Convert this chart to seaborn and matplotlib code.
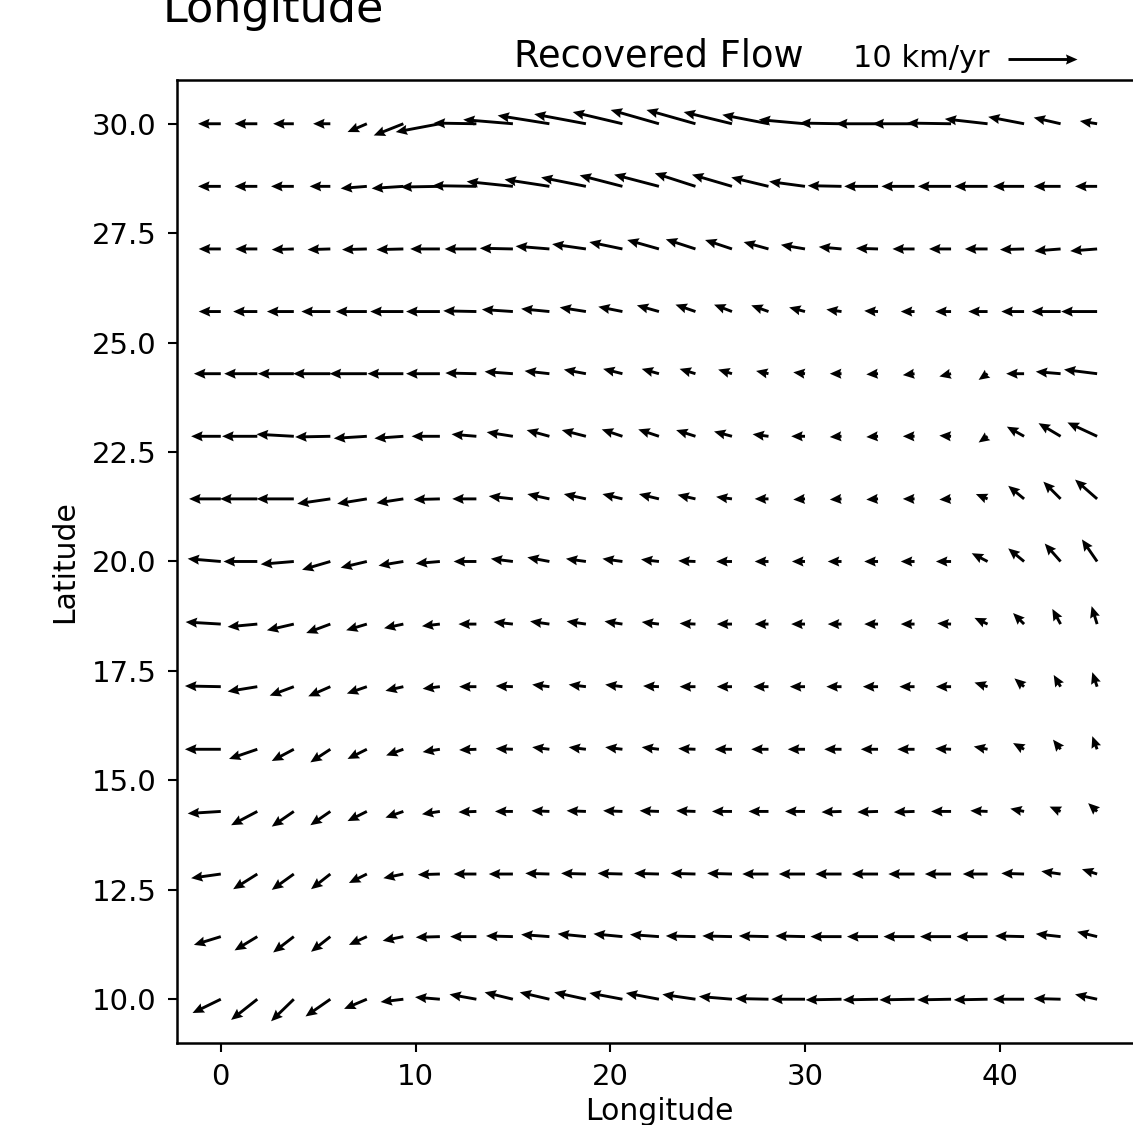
import numpy as np
import matplotlib
matplotlib.use("Agg")
import matplotlib.pyplot as plt
import seaborn as sns

# grid of the recovered velocity field
lon = [0.0, 1.875, 3.75, 5.625, 7.5, 9.375, 11.25, 13.125, 15.0, 16.875, 18.75, 20.625, 22.5,
       24.375, 26.25, 28.125, 30.0, 31.875, 33.75, 35.625, 37.5, 39.375, 41.25, 43.125, 45.0]
lat = [10.0, 11.43, 12.86, 14.29, 15.71, 17.14, 18.57, 20.0, 21.43, 22.86, 24.29, 25.71, 27.14, 28.57, 30.0]

# east component (km/yr), one row per latitude, south -> north
u_east = [
    [-4.1, -3.8, -3.3, -3.6, -3.3, -3.3, -3.6, -3.9, -4.1, -4.3, -4.6, -4.8, -4.8, -4.8, -4.8, -4.8, -4.9, -5.2, -5.1, -5.1, -4.9, -4.9, -4.5, -3.9, -3.2],
    [-3.9, -3.3, -3.0, -2.8, -2.6, -3.0, -3.5, -3.8, -3.9, -4.1, -4.1, -4.2, -4.2, -4.3, -4.3, -4.3, -4.3, -4.5, -4.5, -4.5, -4.5, -4.5, -4.2, -3.6, -2.9],
    [-4.3, -3.5, -3.2, -2.8, -2.6, -2.9, -3.2, -3.3, -3.5, -3.5, -3.6, -3.6, -3.6, -3.6, -3.6, -3.8, -3.8, -3.8, -3.8, -3.8, -3.8, -3.6, -3.3, -2.8, -2.2],
    [-4.8, -3.8, -3.2, -2.9, -2.8, -2.6, -2.6, -2.6, -2.6, -2.6, -2.8, -2.8, -2.8, -2.8, -2.9, -2.9, -2.9, -2.9, -3.0, -3.0, -2.9, -2.5, -2.0, -1.6, -1.3],
    [-5.2, -4.1, -3.2, -2.9, -2.8, -2.5, -2.5, -2.5, -2.5, -2.5, -2.5, -2.5, -2.5, -2.5, -2.5, -2.5, -2.5, -2.5, -2.5, -2.5, -2.3, -2.0, -1.6, -1.1, -0.7],
    [-5.2, -4.3, -3.5, -3.2, -2.9, -2.6, -2.5, -2.5, -2.5, -2.5, -2.5, -2.5, -2.3, -2.3, -2.2, -2.2, -2.2, -2.2, -2.2, -2.2, -2.2, -1.9, -1.4, -1.0, -0.7],
    [-5.1, -4.3, -3.9, -3.5, -3.0, -2.8, -2.6, -2.6, -2.8, -2.8, -2.8, -2.6, -2.5, -2.3, -2.2, -2.0, -2.0, -2.0, -2.0, -2.0, -2.0, -1.9, -1.6, -1.2, -0.8],
    [-4.8, -4.9, -4.8, -4.1, -3.8, -3.6, -3.5, -3.3, -3.2, -3.2, -2.9, -2.9, -2.6, -2.5, -2.3, -2.0, -1.9, -2.0, -2.0, -2.0, -2.2, -2.3, -2.3, -2.3, -2.2],
    [-4.6, -5.4, -5.4, -4.8, -4.3, -3.9, -3.8, -3.5, -3.5, -3.2, -3.2, -2.9, -2.9, -2.6, -2.3, -2.0, -1.7, -1.7, -1.7, -1.7, -1.7, -1.7, -2.3, -2.5, -3.2],
    [-4.3, -5.1, -5.4, -5.1, -4.8, -4.2, -4.1, -3.6, -3.8, -3.3, -3.5, -3.0, -3.0, -2.8, -2.6, -2.3, -2.0, -1.7, -1.7, -1.7, -1.7, -1.3, -2.5, -3.2, -4.3],
    [-3.9, -4.8, -5.2, -5.4, -5.4, -5.2, -4.9, -4.5, -4.1, -3.6, -3.2, -2.8, -2.5, -2.3, -2.0, -1.8, -1.7, -1.7, -1.7, -1.7, -1.7, -1.3, -2.6, -3.6, -4.8],
    [-3.2, -3.5, -3.9, -4.2, -4.5, -4.8, -4.9, -4.8, -4.5, -4.1, -3.8, -3.5, -3.2, -2.9, -2.6, -2.5, -2.3, -2.2, -2.0, -2.0, -2.3, -2.8, -3.3, -4.2, -5.2],
    [-3.2, -3.2, -3.2, -3.3, -3.6, -3.9, -4.3, -4.6, -4.8, -4.9, -4.9, -4.8, -4.6, -4.3, -3.9, -3.6, -3.5, -3.3, -3.2, -3.2, -3.2, -3.3, -3.5, -3.8, -3.9],
    [-3.3, -3.3, -3.3, -3.0, -3.8, -4.6, -5.7, -6.4, -6.7, -6.5, -6.5, -6.2, -6.5, -5.9, -5.8, -5.4, -5.2, -4.9, -4.9, -4.8, -4.8, -4.8, -4.5, -3.9, -3.2],
    [-3.3, -3.3, -3.0, -2.5, -2.8, -4.3, -6.4, -6.2, -7.2, -7.5, -7.5, -7.2, -7.0, -7.1, -7.0, -6.7, -6.7, -6.1, -6.1, -6.1, -6.4, -6.2, -5.2, -3.9, -2.5],
]

# north component (km/yr)
v_north = [
    [-2.0, -3.0, -3.2, -2.5, -1.4, -0.4, 0.3, 0.7, 1.0, 1.0, 1.0, 0.9, 0.9, 0.7, 0.4, 0.1, 0.0, -0.1, -0.1, -0.1, -0.1, -0.1, 0.0, 0.1, 0.7],
    [-1.2, -2.0, -2.3, -2.2, -1.2, -0.6, -0.1, 0.0, 0.1, 0.3, 0.4, 0.4, 0.3, 0.1, 0.1, 0.1, 0.1, 0.0, 0.0, 0.0, 0.0, 0.0, 0.1, 0.4, 0.7],
    [-0.6, -2.2, -2.3, -2.2, -1.3, -0.6, -0.1, 0.0, 0.0, 0.1, 0.1, 0.1, 0.1, 0.1, 0.1, 0.0, 0.0, 0.0, 0.0, 0.0, 0.0, 0.0, 0.1, 0.4, 0.7],
    [-0.3, -2.0, -2.2, -2.0, -1.4, -0.9, -0.4, -0.1, 0.0, 0.1, 0.1, 0.1, 0.1, 0.1, 0.0, 0.0, 0.0, -0.1, -0.1, -0.1, 0.0, 0.1, 0.4, 0.7, 1.2],
    [0.0, -1.4, -1.7, -1.9, -1.4, -0.9, -0.4, -0.1, 0.1, 0.3, 0.3, 0.3, 0.3, 0.1, 0.0, 0.0, 0.0, 0.0, 0.0, 0.0, 0.1, 0.4, 0.9, 1.4, 1.9],
    [0.1, -0.7, -1.3, -1.4, -1.0, -0.6, -0.3, 0.0, 0.1, 0.3, 0.3, 0.3, 0.1, 0.0, 0.0, 0.0, 0.0, 0.0, 0.0, 0.0, 0.0, 0.6, 1.2, 1.7, 2.1],
    [0.3, -0.4, -0.9, -1.3, -0.9, -0.6, -0.3, 0.0, 0.3, 0.4, 0.4, 0.4, 0.3, 0.1, 0.0, 0.0, 0.0, 0.0, 0.0, 0.0, 0.1, 0.9, 1.6, 2.2, 2.6],
    [0.4, 0.0, -0.4, -1.2, -0.9, -0.6, -0.3, 0.0, 0.4, 0.6, 0.4, 0.4, 0.3, 0.1, 0.0, 0.0, 0.0, 0.0, 0.0, 0.0, 0.0, 1.2, 1.9, 2.6, 3.2],
    [0.0, 0.0, 0.0, -0.7, -0.7, -0.6, -0.1, 0.0, 0.4, 0.7, 0.7, 0.7, 0.7, 0.6, 0.3, 0.0, -0.1, -0.1, -0.1, 0.0, -0.1, 0.7, 1.9, 2.5, 2.8],
    [0.0, 0.0, 0.3, -0.1, -0.3, -0.3, 0.0, 0.3, 0.6, 0.9, 0.9, 1.0, 1.0, 0.9, 0.7, 0.3, 0.0, -0.1, -0.1, 0.0, 0.1, -0.9, 1.4, 1.9, 2.0],
    [0.0, 0.0, 0.0, 0.0, 0.0, 0.0, 0.0, 0.1, 0.3, 0.4, 0.6, 0.7, 0.7, 0.7, 0.6, 0.4, 0.2, 0.0, -0.1, -0.2, -0.4, -0.9, 0.0, 0.3, 0.6],
    [0.0, 0.0, 0.0, 0.0, 0.0, 0.0, 0.0, 0.1, 0.3, 0.4, 0.6, 0.7, 0.9, 1.0, 1.0, 0.9, 0.6, 0.3, 0.1, 0.0, 0.0, 0.0, 0.0, 0.0, 0.0],
    [0.0, 0.0, -0.1, -0.1, -0.1, -0.1, 0.0, 0.0, 0.1, 0.4, 0.7, 1.0, 1.3, 1.4, 1.3, 1.0, 0.6, 0.3, 0.1, 0.0, 0.0, 0.0, -0.1, -0.3, -0.3],
    [0.0, 0.0, 0.0, 0.0, -0.3, -0.3, -0.1, 0.1, 0.7, 1.0, 1.3, 1.6, 1.7, 1.9, 1.7, 1.3, 0.7, 0.1, 0.0, 0.0, 0.0, 0.0, 0.0, 0.0, 0.0],
    [0.0, 0.0, 0.0, 0.0, -1.2, -1.7, -1.2, 0.1, 0.6, 1.2, 1.4, 1.7, 2.0, 2.0, 1.7, 1.3, 0.6, 0.1, 0.0, 0.0, 0.1, 0.7, 1.0, 0.9, 0.4],
]

key_speed = 10  # km/yr

sns.set_theme(style="ticks", rc={
    "axes.edgecolor": "black",
    "axes.linewidth": 1.8,
    "text.color": "black",
    "axes.labelcolor": "black",
    "xtick.color": "black",
    "ytick.color": "black",
    "xtick.major.size": 6.5,
    "ytick.major.size": 6.5,
    "xtick.major.width": 1.5,
    "ytick.major.width": 1.5,
    "xtick.major.pad": 8,
    "ytick.major.pad": 8,
})
plt.rcParams["font.family"] = ["DejaVu Sans"]

fig = plt.figure(figsize=(11.33, 11.25), dpi=100)
ax = fig.add_axes([0.1562, 0.0729, 0.8508, 0.856])

X, Y = np.meshgrid(lon, lat)
q = ax.quiver(X, Y, np.array(u_east), np.array(v_north), color="black",
              scale=14.49, scale_units="inches", width=0.003,
              headwidth=3.5, headlength=4, headaxislength=3.6)
ax.quiverkey(q, 0.8897, 0.9476, key_speed, "10 km/yr", labelpos="W",
             coordinates="figure", labelsep=0.18, fontproperties={"size": 22})

ax.set_xlim(-2.25, 47.25)
ax.set_ylim(9, 31)
ax.set_yticks([10, 12.5, 15, 17.5, 20, 22.5, 25, 27.5, 30])
ax.set_xticks([0, 10, 20, 30, 40])
ax.tick_params(labelsize=21)

ax.set_title("Recovered Flow", fontsize=26.5, pad=9.4)
ax.set_xlabel("Longitude", fontsize=21.5)
ax.set_ylabel("Latitude", fontsize=21.5)
ax.xaxis.set_label_coords(0.5, -0.056)
ax.yaxis.set_label_coords(-0.102, 0.5)

fig.text(0.1439, 0.9804, "Longitude", fontsize=32, va="baseline")

fig.savefig("out.png", dpi=100)
